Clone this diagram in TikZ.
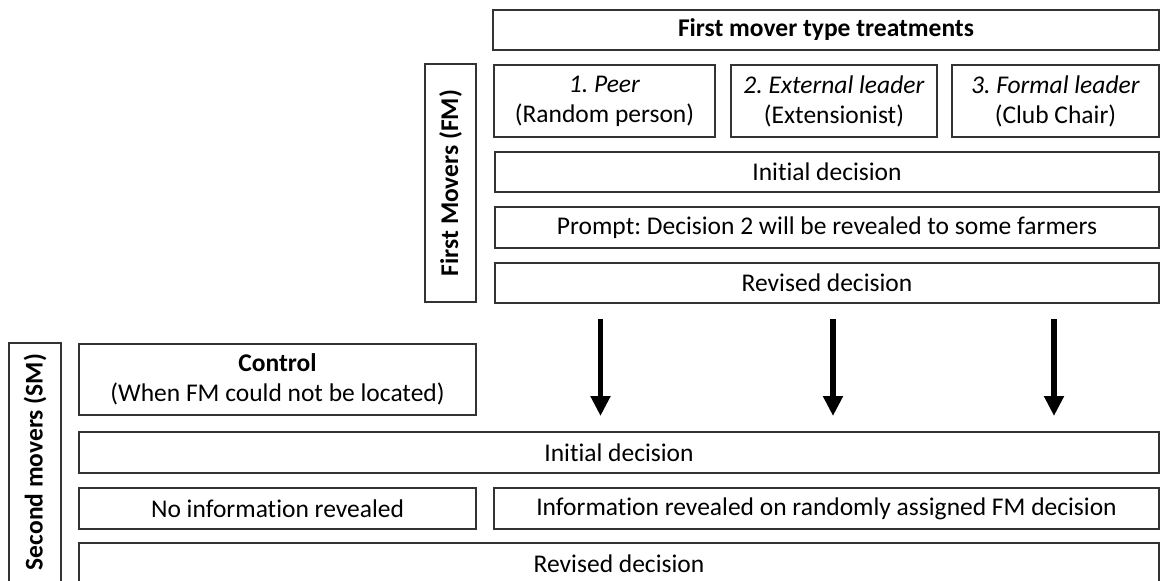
\documentclass[tikz,border=0pt]{standalone}
\usepackage{fontspec}
\setmainfont{Carlito}[Ligatures=NoCommon]
\usetikzlibrary{arrows.meta}
\frenchspacing
\begin{document}
\begin{tikzpicture}[x=1pt,y=-1pt,
  box/.style={draw=black!80, line width=1.5pt, inner sep=0pt, outer sep=0pt, align=center,
    font=\fontsize{25.5}{30}\selectfont},
  vlabel/.style={rotate=90, font=\fontsize{25.5}{30}\selectfont\bfseries},
  bigarrow/.style={line width=5.5pt, -{Triangle[width=19pt,length=20pt]}}]
\useasboundingbox (0,0) rectangle (1160,581);
\clip (0,0) rectangle (1160,581);
\node[box, minimum width=666, minimum height=40] (title) at (826,30) {\textbf{First mover type treatments}};
\node[box, minimum width=51, minimum height=238] (fm) at (450.5,183) {};
\node[vlabel] (fmtext) at (fm.center) {First Movers (FM)};
\node[box, minimum width=221, minimum height=72] (peer) at (604.5,101) {\textit{1. Peer}\\(Random person)};
\node[box, minimum width=206, minimum height=72] (ext) at (834,101) {\textit{2. External leader}\\(Extensionist)};
\node[box, minimum width=207, minimum height=72] (formal) at (1055.5,101) {\textit{3. Formal leader}\\(Club Chair)};
\node[box, minimum width=664, minimum height=40] (init1) at (827,172) {Initial decision};
\node[box, minimum width=664, minimum height=41] (prompt) at (827,227.5) {Prompt: Decision 2 will be revealed to some farmers};
\node[box, minimum width=664, minimum height=40] (rev1) at (827,283) {Revised decision};
\node[box, minimum width=52, minimum height=242] (sm) at (35,464) {};
\node[vlabel] (smtext) at (35,462) {Second movers (SM)};
\node[box, minimum width=397, minimum height=71] (control) at (277.5,379.5) {\textbf{Control}\\(When FM could not be located)};
\node[box, minimum width=1080, minimum height=41] (init2) at (619,452.5) {Initial decision};
\node[box, minimum width=397, minimum height=41] (noinfo) at (277.5,508.5) {No information revealed};
\node[box, minimum width=665, minimum height=41] (info) at (826.5,508.5) {Information revealed on randomly assigned FM decision};
\node[box, minimum width=1080, minimum height=41] (rev2) at (619,563.5) {Revised decision};
\coordinate (a1s) at (600.5,319); \coordinate (a1e) at (600.5,416);
\coordinate (a2s) at (833,319); \coordinate (a2e) at (833,416);
\coordinate (a3s) at (1054,319); \coordinate (a3e) at (1054,416);
\draw[bigarrow] (a1s) -- (a1e);
\draw[bigarrow] (a2s) -- (a2e);
\draw[bigarrow] (a3s) -- (a3e);
\end{tikzpicture}
\end{document}
